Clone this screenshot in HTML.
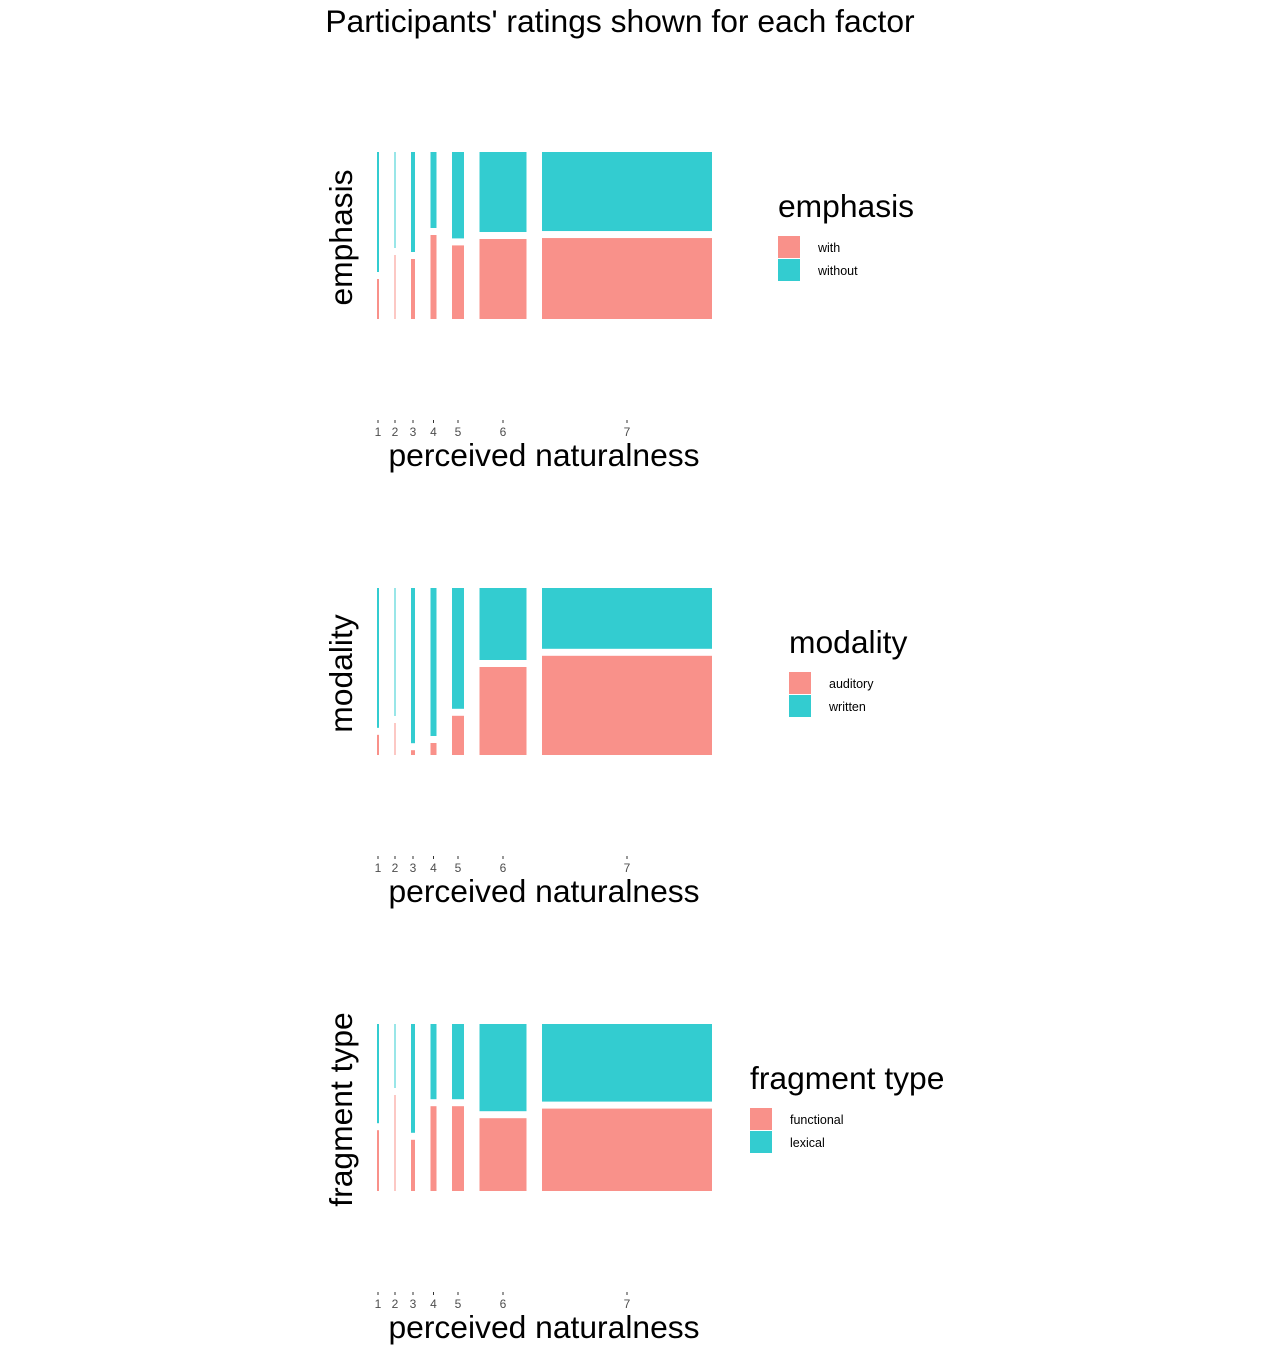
<!DOCTYPE html>
<html><head><meta charset="utf-8">
<style>
body{margin:0;background:#fff;width:1278px;height:1360px;overflow:hidden}
svg{display:block;font-family:"Liberation Sans",sans-serif}
</style></head>
<body>
<svg id="chart" width="1278" height="1360">
<text x="620" y="32" text-anchor="middle" font-size="31.8">Participants' ratings shown for each factor</text>
</svg>
<script>
const categories = ["1","2","3","4","5","6","7"];
const counts = [2, 1, 4, 6, 12, 47, 170];
const factorNames = ["emphasis", "modality", "fragment type"];
const levelsEmphasis = ["with", "without"];
const levelsModality = ["auditory", "written"];
const levelsFragment = ["functional", "lexical"];
const shareEmphasis = [0.25, 0.40, 0.375, 0.525, 0.46, 0.50, 0.506];
const shareModality = [0.126, 0.20, 0.03, 0.075, 0.245, 0.55, 0.62];
const shareFragment = [0.38, 0.60, 0.32, 0.53, 0.53, 0.455, 0.515];

const svg = document.getElementById('chart');
const NS = 'http://www.w3.org/2000/svg';
function mk(tag, attrs, parent){
  const e = document.createElementNS(NS, tag);
  for (const k in attrs) e.setAttribute(k, attrs[k]);
  (parent||svg).appendChild(e);
  return e;
}
const X0 = 377, X1 = 712, GAP = 15.5, VGAP = 7;
const total = counts.reduce((a,b)=>a+b,0);
const unit = (X1 - X0 - GAP*(counts.length-1)) / total;
function xStart(i){ let x = X0; for (let j=0;j<i;j++) x += counts[j]*unit + GAP; return x; }
function xWidth(i){ return Math.max(counts[i]*unit, 1); }

const panels = [
  {shares: shareEmphasis, levels: levelsEmphasis, top: 152, legX: 778, legY: 206},
  {shares: shareModality, levels: levelsModality, top: 588, legX: 789, legY: 642},
  {shares: shareFragment, levels: levelsFragment, top: 1024, legX: 750, legY: 1078}
];
const H = 167;
const PINK = '#F8766D', TEAL = '#00BFC4';

panels.forEach((p, pi) => {
  const g = mk('g', {});
  
  
  const bottom = p.top + H;
  const avail = H - VGAP;
  const yScale = v => v * avail;
  categories.forEach((c, i) => {
    const x = xStart(i), w = xWidth(i);
    const ph = yScale(p.shares[i]);
    const th = avail - ph;
    const t = mk('rect', {x: x, y: p.top, width: w, height: th, fill: TEAL, 'fill-opacity': 0.8}, g);
    
    
    const r = mk('rect', {x: x, y: bottom - ph, width: w, height: ph, fill: PINK, 'fill-opacity': 0.8}, g);
    
    
    const cx = x + w/2;
    const tk = mk('line', {x1: cx, x2: cx, y1: bottom + 101, y2: bottom + 104, stroke: '#333', 'stroke-width': 1}, g);
    
    
    const tl = mk('text', {x: cx, y: bottom + 117, 'text-anchor': 'middle', 'font-size': 12, fill: '#4d4d4d'}, g);
    tl.textContent = c;
    
    
  });
  const xt = mk('text', {x: 544, y: bottom + 147, 'text-anchor': 'middle', 'font-size': 31.8}, g);
  xt.textContent = 'perceived naturalness';
  
  
  const cy = p.top + H/2 + 2;
  const yt = mk('text', {x: 0, y: 0, 'text-anchor': 'middle', 'font-size': 31.8, transform: 'translate(352,' + cy + ') rotate(-90)'}, g);
  yt.textContent = factorNames[pi];
  
  
  const lt = mk('text', {x: p.legX, y: p.legY + 11, 'font-size': 31.8}, g);
  lt.textContent = factorNames[pi];
  
  
  p.levels.forEach((lv, li) => {
    const ky = p.legY + 30 + li*23;
    const k = mk('rect', {x: p.legX, y: ky, width: 22, height: 22, fill: li ? TEAL : PINK, 'fill-opacity': 0.8}, g);
    
    
    const kt = mk('text', {x: p.legX + 40, y: ky + 16, 'font-size': 12.5}, g);
    kt.textContent = lv;
    
    
  });
});
</script>
</body></html>
